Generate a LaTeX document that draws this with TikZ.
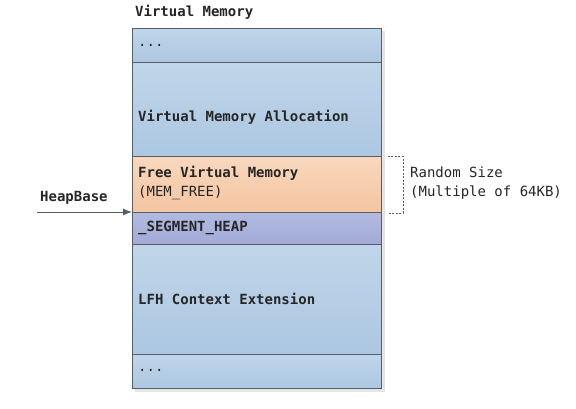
\documentclass[tikz,border=0pt]{standalone}
\usepackage{fontspec}
\setmonofont{DejaVu Sans Mono}
\usetikzlibrary{positioning,arrows.meta}

\definecolor{edgegray}{RGB}{88,94,104}
\definecolor{bluetop}{RGB}{192,213,233}
\definecolor{bluebot}{RGB}{172,199,225}
\definecolor{orangetop}{RGB}{249,216,190}
\definecolor{orangebot}{RGB}{243,196,160}
\definecolor{purpletop}{RGB}{178,186,224}
\definecolor{purplebot}{RGB}{162,171,214}

\tikzset{
  block/.style={draw=edgegray,line width=0.9pt,minimum width=249pt,inner sep=0pt,anchor=north west},
  blueblock/.style={block,top color=bluetop,bottom color=bluebot},
  label/.style={font=\fontsize{14}{19}\selectfont\ttfamily,inner sep=0pt,anchor=west,align=left,text=black!85}
}

\begin{document}
\begin{tikzpicture}[x=1pt,y=-1pt]
    \useasboundingbox (0,0) rectangle (576,408);
    % shadow of the stack
    \fill [black!10] (135,31) rectangle (385,392);
    % memory blocks
    \node [blueblock,minimum height=34pt] (dotsa) at (132,28) {};
    \node [blueblock,minimum height=94pt] (alloc) at (132,62) {};
    \node [block,top color=orangetop,bottom color=orangebot,minimum height=56pt] (free) at (132,156) {};
    \node [block,top color=purpletop,bottom color=purplebot,minimum height=32pt] (seg) at (132,212) {};
    \node [blueblock,minimum height=110pt] (lfh) at (132,244) {};
    \node [blueblock,minimum height=34pt] (dotsb) at (132,354) {};
    % texts
    \node [label,font=\fontsize{14}{19}\selectfont\ttfamily\bfseries] (title) at (135,12) {Virtual Memory};
    \node [label] at (138,45) {...};
    \node [label,font=\fontsize{14}{19}\selectfont\ttfamily\bfseries] at (138,117) {Virtual Memory Allocation};
    \node [label] at (138,183) {\textbf{Free Virtual Memory}\\(MEM\_FREE)};
    \node [label,font=\fontsize{14}{19}\selectfont\ttfamily\bfseries] at (138,228) {\_SEGMENT\_HEAP};
    \node [label,font=\fontsize{14}{19}\selectfont\ttfamily\bfseries] at (138,299) {LFH Context Extension};
    \node [label] at (138,370) {...};
    % heap base pointer
    \node [label,font=\fontsize{14}{19}\selectfont\ttfamily\bfseries] (heapbase) at (40,198) {HeapBase};
    \coordinate (hbstart) at (37,212);
    \draw [edgegray,line width=0.9pt,-{Latex[length=9pt,width=7pt]}] (hbstart) -- (seg.north west);
    % random size bracket
    \draw [edgegray,line width=0.8pt,dash pattern=on 2pt off 1.5pt]
      ([xshift=6pt]free.north east) -| ([xshift=21pt]free.south east) -- ([xshift=6pt]free.south east);
    \node [label] (randsize) at (410,183) {Random Size\\(Multiple of 64KB)};
\end{tikzpicture}
\end{document}
